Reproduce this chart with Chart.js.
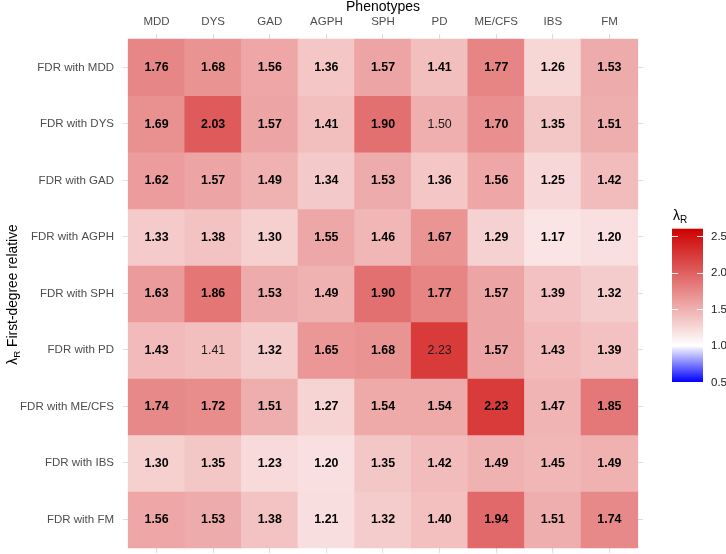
<!DOCTYPE html>
<html><head><meta charset="utf-8">
<script src="https://cdn.jsdelivr.net/npm/chart.js@4"></script>
<style>html,body{margin:0;padding:0;background:#fff}#wrap{width:726px;height:554px;position:relative}</style>
</head><body><div id="wrap"><canvas id="c" width="726" height="554"></canvas></div>
<script>
// ---- data ----
const phenotypes = ['MDD','DYS','GAD','AGPH','SPH','PD','ME/CFS','IBS','FM'];
const relatives = ['FDR with MDD','FDR with DYS','FDR with GAD','FDR with AGPH','FDR with SPH','FDR with PD','FDR with ME/CFS','FDR with IBS','FDR with FM'];
const rowMDD   = [1.76,1.68,1.56,1.36,1.57,1.41,1.77,1.26,1.53];
const rowDYS   = [1.69,2.03,1.57,1.41,1.90,1.50,1.70,1.35,1.51];
const rowGAD   = [1.62,1.57,1.49,1.34,1.53,1.36,1.56,1.25,1.42];
const rowAGPH  = [1.33,1.38,1.30,1.55,1.46,1.67,1.29,1.17,1.20];
const rowSPH   = [1.63,1.86,1.53,1.49,1.90,1.77,1.57,1.39,1.32];
const rowPD    = [1.43,1.41,1.32,1.65,1.68,2.23,1.57,1.43,1.39];
const rowMECFS = [1.74,1.72,1.51,1.27,1.54,1.54,2.23,1.47,1.85];
const rowIBS   = [1.30,1.35,1.23,1.20,1.35,1.42,1.49,1.45,1.49];
const rowFM    = [1.56,1.53,1.38,1.21,1.32,1.40,1.94,1.51,1.74];
const lambdaValues = [rowMDD,rowDYS,rowGAD,rowAGPH,rowSPH,rowPD,rowMECFS,rowIBS,rowFM];
// cells whose labels are printed in plain (non-bold) type
const plainCells = [['FDR with DYS','PD'],['FDR with PD','DYS'],['FDR with PD','PD']];
const legendTicks = [0.5,1.0,1.5,2.0,2.5];
const scaleLow = 0.5, scaleMid = 1.0, scaleHigh = 2.6;

// ---- colour scale ----
const cLow = [0,0,255], cMid = [255,255,255], cHigh = [205,0,0];
function mix(a,b,t){return a.map((v,k)=>Math.round(v+(b[k]-v)*t));}
function colorFor(v){
  let c;
  if (v >= scaleMid) c = mix(cMid,cHigh,Math.min(1,(v-scaleMid)/(scaleHigh-scaleMid)));
  else c = mix(cMid,cLow,Math.min(1,(scaleMid-v)/(scaleMid-scaleLow)));
  return 'rgb('+c.join(',')+')';
}
function isPlain(i,j){return plainCells.some(p=>p[0]===relatives[i]&&p[1]===phenotypes[j]);}

const FONT = '"Liberation Sans", Arial, sans-serif';

const datasets = relatives.map((rel,i)=>({
  label: rel,
  data: phenotypes.map((p,j)=>({x:j, y:1})),
  backgroundColor: lambdaValues[i].map(colorFor),
  borderWidth: 0,
  barPercentage: 1,
  categoryPercentage: 1,
  inflateAmount: 0.4
}));

function subText(ctx, x, y, parts){ // parts: [text, size, dy]
  let cx = x;
  parts.forEach(([t,s,dy])=>{ctx.font = s+'px '+FONT; ctx.fillText(t,cx,y+dy); cx += ctx.measureText(t).width;});
}
function measureParts(ctx, parts){
  let w=0; parts.forEach(([t,s])=>{ctx.font=s+'px '+FONT; w+=ctx.measureText(t).width;}); return w;
}

const overlay = {
  id:'overlay',
  afterDatasetsDraw(chart){
    const ctx = chart.ctx;
    ctx.save();
    ctx.textAlign='center'; ctx.textBaseline='middle';
    chart.data.datasets.forEach((ds,i)=>{
      const meta = chart.getDatasetMeta(i);
      meta.data.forEach((bar,j)=>{
        const p = bar.getProps(['x','y','base'],true);
        const plain = isPlain(i,j);
        ctx.font = (plain?'':'bold ')+'12.4px '+FONT;
        ctx.fillStyle = plain ? '#1a1a1a' : '#000';
        ctx.fillText(lambdaValues[i][j].toFixed(2), p.x, (p.y+p.base)/2+0.5);
      });
    });
    ctx.restore();
  },
  afterDraw(chart){
    const ctx = chart.ctx;
    const area = chart.chartArea;
    ctx.save();
    // y-axis title
    const yParts = [['λ',13.8,0],['R',9.8,3],[' First-degree relative',13.8,0]];
    const w = measureParts(ctx,yParts);
    ctx.translate(16.5,(area.top+area.bottom)/2 + 1);
    ctx.rotate(-Math.PI/2);
    ctx.fillStyle='#000'; ctx.textAlign='left'; ctx.textBaseline='alphabetic';
    subText(ctx,-w/2,0,yParts);
    ctx.restore();
    // colour bar legend
    ctx.save();
    const bx=672, bw=31, yOf = v => 382 - (v-scaleLow)*73;
    const top = yOf(scaleHigh), bot = yOf(scaleLow);
    for (let y=Math.floor(top); y<Math.ceil(bot); y++){
      const v = scaleLow + (bot-(y+0.5))/73;
      ctx.fillStyle = colorFor(v);
      ctx.fillRect(bx, Math.max(y,top), bw, Math.min(y+1,bot)-Math.max(y,top));
    }
    ctx.strokeStyle='rgba(255,255,255,0.9)'; ctx.lineWidth=1;
    ctx.fillStyle='#222'; ctx.textAlign='left'; ctx.textBaseline='middle';
    ctx.font='11.5px '+FONT;
    legendTicks.forEach(v=>{
      const y = Math.round(yOf(v))+0.5;
      ctx.beginPath(); ctx.moveTo(bx,y); ctx.lineTo(bx+6,y); ctx.moveTo(bx+bw-6,y); ctx.lineTo(bx+bw,y); ctx.stroke();
      ctx.fillText(v.toFixed(1), bx+bw+8, yOf(v)+0.5);
    });
    ctx.fillStyle='#000'; ctx.textBaseline='alphabetic';
    subText(ctx, 673, 220, [['λ',14,0],['R',10,3]]);
    ctx.restore();
  }
};

new Chart(document.getElementById('c'), {
  type:'bar',
  data:{datasets},
  options:{
    responsive:false, animation:false, events:[],
    layout:{padding:{left:0,right:83,top:0,bottom:1}},
    plugins:{legend:{display:false},tooltip:{enabled:false}},
    scales:{
      x:{
        type:'linear', position:'top', stacked:true, offset:false,
        min:-0.593, max:8.593,
        afterBuildTicks:s=>{s.ticks = phenotypes.map((_,j)=>({value:j}));},
        afterFit:s=>{s.height=34; s.paddingLeft=0; s.paddingRight=0;},
        ticks:{callback:(v,i)=>phenotypes[i], padding:5, color:'#4D4D4D', autoSkip:false, maxRotation:0,
               font:{family:FONT,size:11.5}},
        grid:{color:'#DEDEDE', lineWidth:1.1, drawTicks:false, offset:false},
        border:{display:false},
        title:{display:true, text:'Phenotypes', color:'#000', padding:0, font:{family:FONT,size:14,lineHeight:1.0}}
      },
      y:{
        type:'linear', reverse:true, stacked:true,
        min:-0.092, max:9.092,
        afterBuildTicks:s=>{s.ticks = relatives.map((_,i)=>({value:i+0.5}));},
        afterFit:s=>{s.width=123; s.paddingTop=0; s.paddingBottom=0;},
        ticks:{callback:(v,i)=>relatives[i], padding:9, color:'#4D4D4D', autoSkip:false,
               font:{family:FONT,size:11.5}},
        grid:{color:'#DEDEDE', lineWidth:1.1, drawTicks:false},
        border:{display:false}
      }
    }
  },
  plugins:[overlay]
});
</script></body></html>
